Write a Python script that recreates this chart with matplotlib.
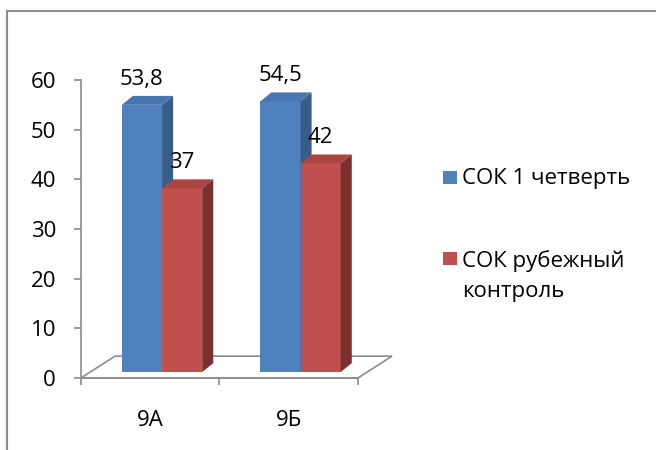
import matplotlib
matplotlib.use("Agg")
import matplotlib.pyplot as plt
from matplotlib.lines import Line2D
from matplotlib.patches import Polygon, Rectangle

# chart data
CLASSES = ["9А", "9Б"]
SERIES_NAMES = ["СОК 1 четверть", "СОК рубежный\nконтроль"]
SOK_QUARTER = [53.8, 54.5]
SOK_CONTROL = [37, 42]
Y_TICKS = [0, 10, 20, 30, 40, 50, 60]

# styling
FIG_W, FIG_H = 656, 450
FONT = "Open Sans"
FONT_SIZE = 16
GREY = "#8c8c8c"
FRONT_COLORS = ["#4f81bd", "#c0504d"]
TOP_COLORS = ["#4776b0", "#aa4542"]
SIDE_COLORS = ["#385d8a", "#7b2f2e"]

BAR_WIDTH = 0.29
GROUP_OFFSET = 0.295
FRONT_DY = 1.2      # bars stand a bit behind the front edge of the floor
BAR_DX = 0.08       # bar depth, projected
BAR_DY = 1.8
FLOOR_DX = 0.245
FLOOR_DY = 4.4
LABEL_GAP = 5.2

plt.rcParams["font.family"] = [FONT, "DejaVu Sans"]
plt.rcParams["font.size"] = FONT_SIZE


def fx(px):
    return px / FIG_W


def fy(py):
    return 1 - py / FIG_H


def fmt(value):
    return f"{value:g}".replace(".", ",")


fig = plt.figure(figsize=(FIG_W / 100, FIG_H / 100), dpi=100)
ax = fig.add_axes([fx(81), fy(378), 277 / FIG_W, 298 / FIG_H])
ax.set_xlim(0, len(CLASSES))
ax.set_ylim(Y_TICKS[0], Y_TICKS[-1])

# floor of the 3d box
floor = Polygon([(0, 0), (len(CLASSES), 0),
                 (len(CLASSES) + FLOOR_DX, FLOOR_DY), (FLOOR_DX, FLOOR_DY)],
                closed=True, facecolor="white", edgecolor=GREY,
                linewidth=1.2, clip_on=False, zorder=1)
ax.add_patch(floor)

for j, values in enumerate([SOK_QUARTER, SOK_CONTROL]):
    lefts = [i + GROUP_OFFSET + j * BAR_WIDTH for i in range(len(CLASSES))]
    bars = ax.bar(lefts, values, width=BAR_WIDTH, bottom=FRONT_DY, align="edge",
                  color=FRONT_COLORS[j], linewidth=0, zorder=3 + j,
                  clip_on=False)
    for bar, value in zip(bars, values):
        x0 = bar.get_x()
        x1 = x0 + bar.get_width()
        y0 = bar.get_y()
        y1 = y0 + bar.get_height()
        top = Polygon([(x0, y1), (x1, y1), (x1 + BAR_DX, y1 + BAR_DY),
                       (x0 + BAR_DX, y1 + BAR_DY)], closed=True,
                      facecolor=TOP_COLORS[j], linewidth=0,
                      clip_on=False, zorder=3 + j)
        side = Polygon([(x1, y0), (x1 + BAR_DX, y0 + BAR_DY),
                        (x1 + BAR_DX, y1 + BAR_DY), (x1, y1)], closed=True,
                       facecolor=SIDE_COLORS[j], linewidth=0,
                       clip_on=False, zorder=3 + j)
        ax.add_patch(top)
        ax.add_patch(side)
        ax.text((x0 + x1) / 2, y1 + LABEL_GAP, fmt(value), ha="center",
                va="center", color="black", zorder=10, clip_on=False)

for name in ["top", "right"]:
    ax.spines[name].set_visible(False)
for name in ["left", "bottom"]:
    ax.spines[name].set_color(GREY)
    ax.spines[name].set_linewidth(1.2)

ax.set_yticks(Y_TICKS)
ax.set_yticklabels([str(t) for t in Y_TICKS])
ax.tick_params(axis="y", direction="out", length=5, width=1.2, color=GREY,
               pad=13, labelsize=FONT_SIZE)

ax.set_xticks(range(len(CLASSES) + 1))
ax.set_xticklabels([])
ax.set_xticks([i + 0.5 for i in range(len(CLASSES))], minor=True)
ax.set_xticklabels(CLASSES, minor=True)
ax.tick_params(axis="x", which="major", direction="out", length=5, width=1.2,
               color=GREY)
ax.tick_params(axis="x", which="minor", length=0, pad=23, labelsize=FONT_SIZE)

# legend drawn by hand to match the spacing
legend_rows = [(171, 178), (252, 260)]
for j, (sq_top, text_y) in enumerate(legend_rows):
    fig.add_artist(Rectangle((fx(443), fy(sq_top + 13)), 14 / FIG_W, 13 / FIG_H,
                             transform=fig.transFigure,
                             facecolor=FRONT_COLORS[j], linewidth=0))
    fig.text(fx(462), fy(text_y - 10), SERIES_NAMES[j], ha="left", va="top",
             linespacing=1.6, fontsize=FONT_SIZE)

# chart frame, cut by the picture edge
fig.add_artist(Line2D([fx(7), 1], [fy(11), fy(11)], transform=fig.transFigure,
                      color=GREY, linewidth=1.5))
fig.add_artist(Line2D([fx(7), fx(7)], [fy(11), 0], transform=fig.transFigure,
                      color=GREY, linewidth=1.5))

fig.savefig("out.png", dpi=100)
